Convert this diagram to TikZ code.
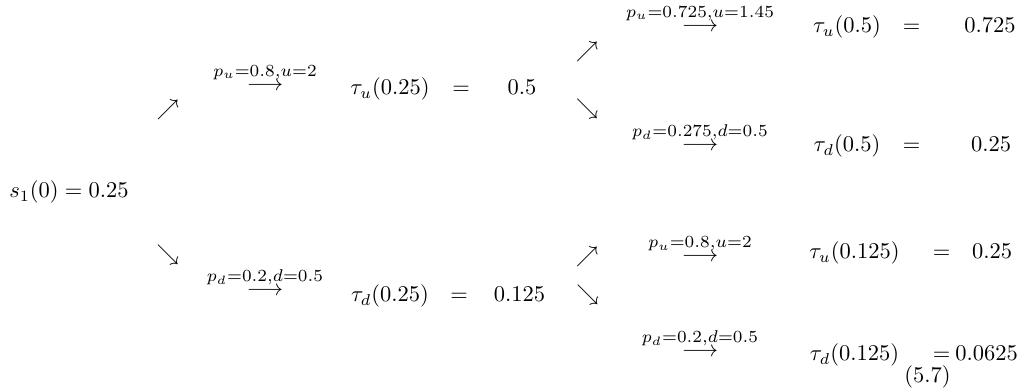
\documentclass[tikz,border=0pt]{standalone}
\usepackage{graphicx}
\newcommand{\mvlab}[1]{\scalebox{1.08}{$\scriptstyle #1$}}
\begin{document}
\begin{tikzpicture}[x=0.4444pt,y=-0.4444pt,
  txt/.style={anchor=base,inner sep=0pt,outer sep=0pt},
  glyph/.style={anchor=center,inner sep=0pt,outer sep=0pt},
  move/.style={anchor=base,inner sep=0pt,outer sep=0pt}]
\useasboundingbox (0,0) rectangle (1033,392);
% root
\node[txt] (s1) at (69,198) {$s_1(0) = 0.25$};
% first level branches
\node[glyph] (a1) at (168,110) {$\nearrow$};
\node[glyph] (a2) at (168,255) {$\searrow$};
\node[move] (m1) at (265,90.5) {$\stackrel{\mvlab{p_u=0.8,u=2}}{\longrightarrow}$};
\node[move] (m6) at (265,295.5) {$\stackrel{\mvlab{p_d=0.2,d=0.5}}{\longrightarrow}$};
% upper middle row
\node[txt] (tu1) at (390,95) {$\tau_u(0.25)$};
\node[txt] (eq1) at (461,95) {$=$};
\node[txt] (v1) at (522,95) {$0.5$};
% lower middle row
\node[txt] (td1) at (390,302) {$\tau_d(0.25)$};
\node[txt] (eq2) at (459,302) {$=$};
\node[txt] (v2) at (519.5,302) {$0.125$};
% second level branches
\node[glyph] (a3) at (587,52) {$\nearrow$};
\node[glyph] (a4) at (587,109) {$\searrow$};
\node[glyph] (a5) at (587,256.5) {$\nearrow$};
\node[glyph] (a6) at (587.5,295) {$\searrow$};
\node[move] (m2) at (700,31.5) {$\stackrel{\mvlab{p_u=0.725,u=1.45}}{\longrightarrow}$};
\node[move] (m3) at (700,150.5) {$\stackrel{\mvlab{p_d=0.275,d=0.5}}{\longrightarrow}$};
\node[move] (m4) at (700,262) {$\stackrel{\mvlab{p_u=0.8,u=2}}{\longrightarrow}$};
\node[move] (m5) at (700,357) {$\stackrel{\mvlab{p_d=0.2,d=0.5}}{\longrightarrow}$};
% right rows
\node[txt] (tu2) at (847,33) {$\tau_u(0.5)$};
\node[txt] (eq3) at (911.5,33) {$=$};
\node[txt] (v3) at (990,33) {$0.725$};
\node[txt] (td2) at (847,152) {$\tau_d(0.5)$};
\node[txt] (eq4) at (911.5,152) {$=$};
\node[txt] (v4) at (991,152) {$0.25$};
\node[txt] (tu3) at (854.5,259) {$\tau_u(0.125)$};
\node[txt] (eq5) at (941.5,259) {$=$};
\node[txt] (v5) at (992,259) {$0.25$};
\node[txt] (td3) at (854.5,361) {$\tau_d(0.125)$};
\node[txt] (eq6) at (941.5,361) {$=$};
\node[txt] (v6) at (986.5,361) {$0.0625$};
\node[txt] (eqno) at (927.5,383) {$(5.7)$};
\end{tikzpicture}
\end{document}
